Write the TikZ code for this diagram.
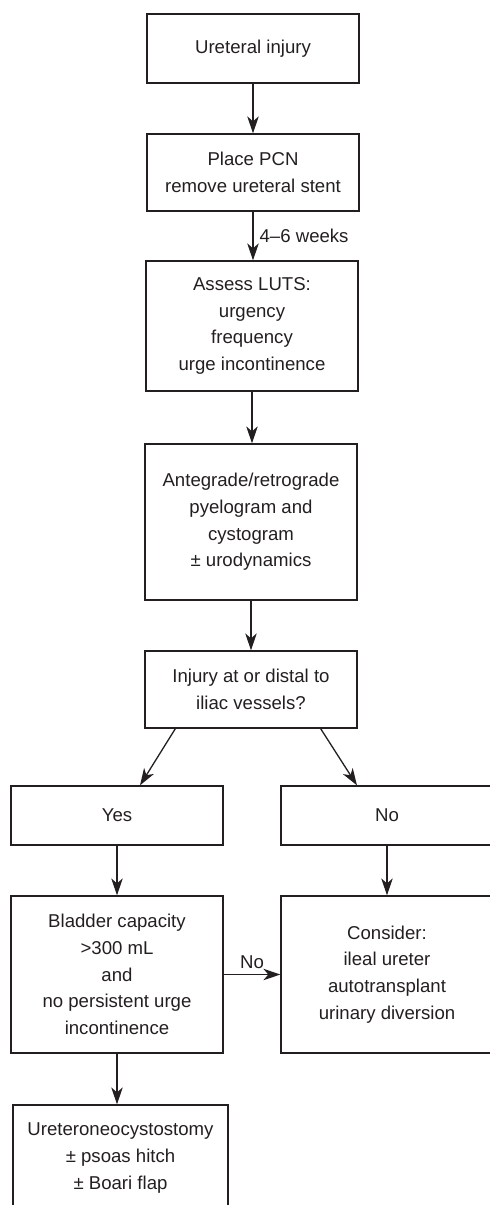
\documentclass[tikz,border=0pt]{standalone}
\usepackage{fontspec}
\setmainfont{Liberation Sans}
\usetikzlibrary{arrows.meta,calc}
\definecolor{ink}{HTML}{231F20}
\begin{document}
\begin{tikzpicture}[x=1pt,y=-1pt,
  box/.style={draw=ink, line width=1.3pt, rectangle, inner sep=0pt, align=center,
    text=ink, font=\fontsize{18.6pt}{26.7pt}\selectfont, minimum width=212pt},
  arr/.style={draw=ink, line width=1.3pt, -{Stealth[length=17pt,width=11.5pt,inset=5pt]}},
  lbl/.style={text=ink, font=\fontsize{18.6pt}{26.7pt}\selectfont, inner sep=0pt}]
\useasboundingbox (0,0) rectangle (490,1205);
\node[box, minimum height=69pt] (b1) at (253,48.5) {Ureteral injury};
\node[box, minimum height=77pt] (b2) at (253,172.5) {Place PCN\\remove ureteral stent};
\node[box, minimum height=130pt] (b3) at (252,326) {Assess LUTS:\\urgency\\frequency\\urge incontinence};
\node[box, minimum height=156pt] (b4) at (251,522) {Antegrade/retrograde\\pyelogram and\\cystogram\\± urodynamics};
\node[box, minimum height=77pt] (b5) at (251,689.5) {Injury at or distal to\\iliac vessels?};
\node[box, minimum height=59pt] (yes) at (117,815.5) {Yes};
\node[box, minimum height=59pt] (no) at (387,815.5) {No};
\node[box, minimum height=157pt] (bl) at (117,974.5) {Bladder capacity\\>300 mL\\and\\no persistent urge\\incontinence};
\node[box, minimum height=157pt] (co) at (387,974.5) {Consider:\\ileal ureter\\autotransplant\\urinary diversion};
\node[box, minimum height=106pt, minimum width=215pt] (ur) at (120.5,1158) {Ureteroneocystostomy\\± psoas hitch\\± Boari flap};
\draw[arr] (b1.south) -- (b1.south |- b2.north);
\draw[arr] (b2.south) -- node[lbl, right=6pt] {4–6 weeks} (b2.south |- b3.north);
\draw[arr] (b3.south) -- (b3.south |- b4.north);
\draw[arr] (b4.south) -- (b4.south |- b5.north);
\draw[arr] ([xshift=31pt]b5.south west) -- ([xshift=23pt]yes.north);
\draw[arr] ([xshift=-37pt]b5.south east) -- ([xshift=-30pt]no.north);
\draw[arr] (yes.south) -- (bl.north);
\draw[arr] (no.south) -- (co.north);
\draw[arr] (bl.east) -- node[lbl, above=5pt] {No} (co.west);
\draw[arr] (bl.south) -- (bl.south |- ur.north);
\end{tikzpicture}
\end{document}
